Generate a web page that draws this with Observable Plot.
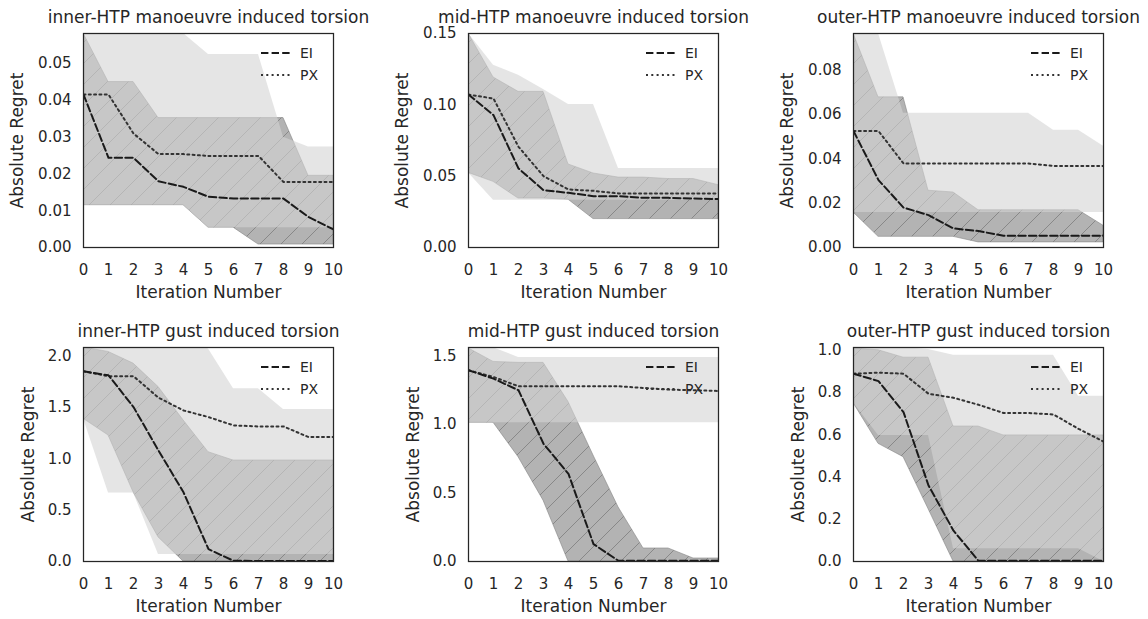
<!DOCTYPE html>
<html>
<head>
<meta charset="utf-8">
<script src="https://cdn.jsdelivr.net/npm/d3@7"></script>
<script src="https://cdn.jsdelivr.net/npm/@observablehq/plot@0.6"></script>
<style>
html,body{margin:0;padding:0;background:#fff;overflow:hidden;}
#wrap{position:relative;width:1148px;height:619px;background:#fff;}
.panel{position:absolute;}
</style>
</head>
<body>
<div id="wrap"></div>
<script>
// ---------- data ----------
const iterations = [0, 1, 2, 3, 4, 5, 6, 7, 8, 9, 10];

// inner-HTP manoeuvre
const innerManEI   = [0.0416, 0.0244, 0.0244, 0.0180, 0.0165, 0.0138, 0.0133, 0.0133, 0.0133, 0.0083, 0.0049];
const innerManPX   = [0.0416, 0.0416, 0.0310, 0.0254, 0.0254, 0.0249, 0.0249, 0.0249, 0.0178, 0.0178, 0.0178];
const innerManEILo = [0.0115, 0.0115, 0.0115, 0.0115, 0.0115, 0.0054, 0.0054, 0.0008, 0.0008, 0.0008, 0.0008];
const innerManEIHi = [0.0582, 0.0450, 0.0450, 0.0352, 0.0352, 0.0352, 0.0352, 0.0352, 0.0352, 0.0195, 0.0195];
const innerManPXLo = [0.0115, 0.0115, 0.0115, 0.0115, 0.0115, 0.0054, 0.0054, 0.0054, 0.0054, 0.0054, 0.0054];
const innerManPXHi = [0.0620, 0.0620, 0.0620, 0.0620, 0.0582, 0.0525, 0.0525, 0.0525, 0.0300, 0.0273, 0.0273];

// mid-HTP manoeuvre
const midManEI   = [0.1072, 0.0928, 0.0554, 0.0402, 0.0383, 0.0360, 0.0360, 0.0348, 0.0348, 0.0343, 0.0339];
const midManPX   = [0.1072, 0.1044, 0.0706, 0.0500, 0.0407, 0.0397, 0.0379, 0.0379, 0.0379, 0.0379, 0.0379];
const midManEILo = [0.0523, 0.0460, 0.0343, 0.0343, 0.0335, 0.0199, 0.0199, 0.0199, 0.0199, 0.0199, 0.0199];
const midManEIHi = [0.1500, 0.1192, 0.1091, 0.1091, 0.0582, 0.0519, 0.0490, 0.0490, 0.0480, 0.0480, 0.0437];
const midManPXLo = [0.0523, 0.0332, 0.0332, 0.0332, 0.0332, 0.0332, 0.0332, 0.0332, 0.0332, 0.0332, 0.0332];
const midManPXHi = [0.1500, 0.1278, 0.1208, 0.1107, 0.1002, 0.1002, 0.0554, 0.0554, 0.0554, 0.0554, 0.0554];

// outer-HTP manoeuvre
const outerManEI   = [0.0525, 0.0304, 0.0180, 0.0146, 0.0086, 0.0074, 0.0053, 0.0053, 0.0053, 0.0053, 0.0053];
const outerManPX   = [0.0525, 0.0525, 0.0379, 0.0379, 0.0379, 0.0379, 0.0379, 0.0379, 0.0368, 0.0368, 0.0368];
const outerManEILo = [0.0158, 0.0048, 0.0048, 0.0048, 0.0048, 0.0023, 0.0023, 0.0023, 0.0023, 0.0023, 0.0023];
const outerManEIHi = [0.0965, 0.0677, 0.0677, 0.0256, 0.0248, 0.0168, 0.0168, 0.0168, 0.0168, 0.0168, 0.0098];
const outerManPXLo = [0.0158, 0.0158, 0.0158, 0.0158, 0.0158, 0.0158, 0.0158, 0.0158, 0.0158, 0.0158, 0.0158];
const outerManPXHi = [0.1150, 0.0965, 0.0605, 0.0605, 0.0605, 0.0605, 0.0605, 0.0605, 0.0529, 0.0529, 0.0457];

// inner-HTP gust
const innerGustEI   = [1.853, 1.814, 1.505, 1.081, 0.674, 0.120, 0.007, 0.005, 0.005, 0.005, 0.005];
const innerGustPX   = [1.853, 1.805, 1.805, 1.596, 1.472, 1.407, 1.326, 1.316, 1.316, 1.212, 1.212];
const innerGustEILo = [1.390, 1.228, 0.674, 0.235, 0.000, 0.000, 0.000, 0.000, 0.000, 0.000, 0.000];
const innerGustEIHi = [2.085, 2.042, 1.928, 1.700, 1.375, 1.065, 0.984, 0.984, 0.984, 0.984, 0.984];
const innerGustPXLo = [1.390, 0.668, 0.668, 0.068, 0.068, 0.068, 0.068, 0.068, 0.068, 0.068, 0.068];
const innerGustPXHi = [2.200, 2.200, 2.200, 2.200, 2.200, 2.070, 1.684, 1.684, 1.482, 1.482, 1.482];

// mid-HTP gust
const midGustEI   = [1.395, 1.334, 1.249, 0.859, 0.639, 0.127, 0.005, 0.005, 0.005, 0.005, 0.005];
const midGustPX   = [1.395, 1.346, 1.278, 1.278, 1.278, 1.278, 1.278, 1.266, 1.254, 1.249, 1.244];
const midGustEILo = [1.012, 1.012, 0.761, 0.444, 0.000, 0.000, 0.000, 0.000, 0.000, 0.000, 0.000];
const midGustEIHi = [1.555, 1.456, 1.449, 1.449, 1.163, 0.773, 0.395, 0.095, 0.095, 0.022, 0.022];
const midGustPXLo = [1.012, 1.012, 1.012, 1.012, 1.012, 1.012, 1.012, 1.012, 1.012, 1.012, 1.012];
const midGustPXHi = [1.575, 1.560, 1.488, 1.488, 1.488, 1.488, 1.488, 1.488, 1.488, 1.488, 1.488];

// outer-HTP gust
const outerGustEI   = [0.889, 0.854, 0.707, 0.360, 0.146, 0.003, 0.003, 0.003, 0.003, 0.003, 0.003];
const outerGustPX   = [0.889, 0.894, 0.889, 0.794, 0.775, 0.742, 0.703, 0.703, 0.696, 0.628, 0.568];
const outerGustEILo = [0.750, 0.557, 0.494, 0.248, 0.000, 0.000, 0.000, 0.000, 0.000, 0.000, 0.000];
const outerGustEIHi = [1.008, 1.000, 0.965, 0.965, 0.639, 0.639, 0.597, 0.597, 0.597, 0.597, 0.597];
const outerGustPXLo = [0.750, 0.597, 0.597, 0.597, 0.060, 0.060, 0.060, 0.060, 0.060, 0.060, 0.000];
const outerGustPXHi = [1.013, 1.013, 1.013, 1.003, 0.976, 0.976, 0.976, 0.976, 0.976, 0.782, 0.782];

const titles = [
  "inner-HTP manoeuvre induced torsion",
  "mid-HTP manoeuvre induced torsion",
  "outer-HTP manoeuvre induced torsion",
  "inner-HTP gust induced torsion",
  "mid-HTP gust induced torsion",
  "outer-HTP gust induced torsion"
];
const yMaxes = [0.0582, 0.15, 0.0965, 2.085, 1.561, 1.013];
const yTickSets = [
  [0, 0.01, 0.02, 0.03, 0.04, 0.05],
  [0, 0.05, 0.10, 0.15],
  [0, 0.02, 0.04, 0.06, 0.08],
  [0, 0.5, 1.0, 1.5, 2.0],
  [0, 0.5, 1.0, 1.5],
  [0, 0.2, 0.4, 0.6, 0.8, 1.0]
];
const yTickFormats = [".2f", ".2f", ".2f", ".1f", ".1f", ".1f"];
const xLabel = "Iteration Number";
const yLabel = "Absolute Regret";
const seriesNames = ["EI", "PX"];

const panelSeries = [
  [innerManEI, innerManPX, innerManEILo, innerManEIHi, innerManPXLo, innerManPXHi],
  [midManEI, midManPX, midManEILo, midManEIHi, midManPXLo, midManPXHi],
  [outerManEI, outerManPX, outerManEILo, outerManEIHi, outerManPXLo, outerManPXHi],
  [innerGustEI, innerGustPX, innerGustEILo, innerGustEIHi, innerGustPXLo, innerGustPXHi],
  [midGustEI, midGustPX, midGustEILo, midGustEIHi, midGustPXLo, midGustPXHi],
  [outerGustEI, outerGustPX, outerGustEILo, outerGustEIHi, outerGustPXLo, outerGustPXHi]
];

// ---------- drawing ----------
const NS = "http://www.w3.org/2000/svg";
const INK = "#262626";
const EI_DASH = "7.4,3.2";
const PX_DASH = "2,3.3";

function el(name, attrs) {
  const e = document.createElementNS(NS, name);
  for (const k in attrs) e.setAttribute(k, attrs[k]);
  return e;
}

function hatchDefs(id) {
  return () => {
    const defs = el("defs", {});
    const pat = el("pattern", {id, patternUnits: "userSpaceOnUse", width: 21, height: 21});
    pat.appendChild(el("path", {
      d: "M-3,3 L3,-3 M0,21 L21,0 M18,24 L24,18",
      stroke: "#4d4d4d", "stroke-opacity": 0.42, "stroke-width": 1, fill: "none"
    }));
    defs.appendChild(pat);
    return defs;
  };
}

function legendMark() {
  return (index, scales, values, d) => {
    const g = el("g", {});
    const right = d.width - d.marginRight;
    const top = d.marginTop;
    const rows = [
      {name: seriesNames[0], dash: EI_DASH, color: "#1a1a1a", dy: 20},
      {name: seriesNames[1], dash: PX_DASH, color: "#333333", dy: 42}
    ];
    for (const r of rows) {
      g.appendChild(el("line", {
        x1: right - 72, x2: right - 42, y1: top + r.dy, y2: top + r.dy,
        stroke: r.color, "stroke-width": 2, "stroke-dasharray": r.dash
      }));
      const t = el("text", {
        x: right - 33, y: top + r.dy, dy: "0.35em", "text-anchor": "start",
        "font-size": 14, fill: INK
      });
      t.textContent = r.name;
      g.appendChild(t);
    }
    return g;
  };
}

const wrap = document.getElementById("wrap");
const colLeft = [0, 385, 770];
const rowTop = [0, 314];
const rowHeight = [314, 305];
const rowMarginBottom = [67, 58];
const rowYLabelDx = [-66, -55];

panelSeries.forEach((s, p) => {
  const [ei, px, eiLo, eiHi, pxLo, pxHi] = s;
  const data = iterations.map((it, i) => ({
    it, ei: ei[i], px: px[i], eiLo: eiLo[i], eiHi: eiHi[i], pxLo: pxLo[i], pxHi: pxHi[i]
  }));
  const r = Math.floor(p / 3), c = p % 3;
  const hid = "hatch-" + p;

  const svg = Plot.plot({
    width: 378,
    height: rowHeight[r],
    marginLeft: 83,
    marginRight: 45,
    marginTop: 33,
    marginBottom: rowMarginBottom[r],
    style: {fontFamily: "DejaVu Sans", fontSize: "15px", color: INK, background: "#fff", overflow: "visible"},
    x: {domain: [0, 10]},
    y: {domain: [0, yMaxes[p]]},
    marks: [
      hatchDefs(hid),
      // EI band: grey fill, hatch, edge
      Plot.areaY(data, {x: "it", y1: "eiLo", y2: "eiHi", fill: "#808080", fillOpacity: 0.6, clip: true}),
      Plot.areaY(data, {x: "it", y1: "eiLo", y2: "eiHi", fill: `url(#${hid})`, clip: true}),
      Plot.areaY(data, {x: "it", y1: "eiLo", y2: "eiHi", fill: "none", stroke: "#808080", strokeOpacity: 0.55, strokeWidth: 1, clip: true}),
      // PX band (light grey, drawn above)
      Plot.areaY(data, {x: "it", y1: "pxLo", y2: "pxHi", fill: "#d3d3d3", fillOpacity: 0.6, clip: true}),
      // medians
      Plot.lineY(data, {x: "it", y: "px", stroke: "#333333", strokeWidth: 2, strokeDasharray: PX_DASH, clip: true}),
      Plot.lineY(data, {x: "it", y: "ei", stroke: "#1a1a1a", strokeWidth: 2, strokeDasharray: EI_DASH, clip: true}),
      Plot.frame({stroke: INK, strokeWidth: 1.25}),
      Plot.axisX({ticks: iterations, tickSize: 0, tickPadding: 17, tickFormat: d3.format("d"), label: null}),
      Plot.axisY({ticks: yTickSets[p], tickSize: 0, tickPadding: 12, tickFormat: d3.format(yTickFormats[p]), label: null}),
      Plot.text([titles[p]], {frameAnchor: "top", lineAnchor: "middle", textAnchor: "middle", dy: -16, fontSize: 17, fill: INK}),
      Plot.text([xLabel], {frameAnchor: "bottom", lineAnchor: "middle", textAnchor: "middle", dy: 45, fontSize: 17, fill: INK}),
      Plot.text([yLabel], {frameAnchor: "left", lineAnchor: "middle", textAnchor: "middle", dx: rowYLabelDx[r], rotate: -90, fontSize: 17, fill: INK}),
      legendMark()
    ]
  });

  const div = document.createElement("div");
  div.className = "panel";
  div.style.left = colLeft[c] + "px";
  div.style.top = rowTop[r] + "px";
  div.appendChild(svg);
  wrap.appendChild(div);
});
</script>
</body>
</html>
